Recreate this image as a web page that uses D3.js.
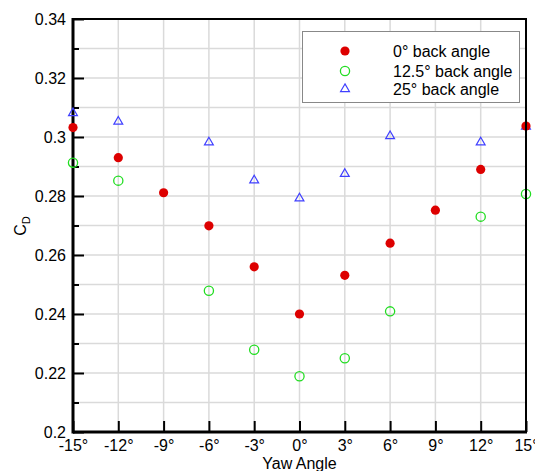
<!DOCTYPE html>
<html>
<head>
<meta charset="utf-8">
<script src="https://cdn.jsdelivr.net/npm/d3@7"></script>
<style>
  body { margin: 0; background: #fff; }
  svg { display: block; font-family: "Liberation Sans", Arial, sans-serif; }
</style>
</head>
<body>
<div id="chart"></div>
<script>
// yaw angles (deg) and drag coefficient per back angle
var yaw = [-15, -12, -9, -6, -3, 0, 3, 6, 9, 12, 15];
var cd0 = [0.3032, 0.293, 0.2811, 0.2699, 0.256, 0.240, 0.2531, 0.264, 0.2752, 0.289, 0.3037];
var yaw125 = [-15, -12, -6, -3, 0, 3, 6, 12, 15];
var cd125 = [0.2913, 0.2852, 0.2479, 0.2279, 0.2189, 0.225, 0.2409, 0.273, 0.2807];
var yaw25 = [-15, -12, -6, -3, 0, 3, 6, 12, 15];
var cd25 = [0.3081, 0.3052, 0.2982, 0.2853, 0.2792, 0.2875, 0.3003, 0.2982, 0.3035];
var xTicks = [-15, -12, -9, -6, -3, 0, 3, 6, 9, 12, 15];
var yTicks = [0.2, 0.22, 0.24, 0.26, 0.28, 0.3, 0.32, 0.34];
var legendLabels = ["0° back angle", "12.5° back angle", "25° back angle"];

var W = 535, H = 471;
var margin = {top: 19, right: 9, bottom: 39, left: 73},
    width = W - margin.left - margin.right,
    height = H - margin.top - margin.bottom;

var svg = d3.select("#chart").append("svg")
    .attr("width", W)
    .attr("height", H);

var g = svg.append("g")
    .attr("transform", "translate(" + margin.left + "," + margin.top + ")");

var x = d3.scaleLinear().domain([-15, 15]).range([0, width]);
var y = d3.scaleLinear().domain([0.2, 0.34]).range([height, 0]);

// grid
var yGrid = d3.range(21, 34).map(function (d) { return d / 100; });
g.append("g").selectAll("line")
    .data(yGrid)
    .enter().append("line")
    .attr("x1", 0).attr("x2", width)
    .attr("y1", function (d) { return y(d); })
    .attr("y2", function (d) { return y(d); })
    .attr("stroke", "#dadada").attr("stroke-width", 1.5);
g.append("g").selectAll("line")
    .data(xTicks.slice(1, -1))
    .enter().append("line")
    .attr("y1", 0).attr("y2", height)
    .attr("x1", function (d) { return x(d); })
    .attr("x2", function (d) { return x(d); })
    .attr("stroke", "#dadada").attr("stroke-width", 1.5);

// axes
var yAxis = g.append("g")
    .call(d3.axisLeft(y).tickValues(yTicks).tickSize(-11).tickPadding(7)
        .tickFormat(d3.format("~g")));
var yMinor = g.append("g")
    .call(d3.axisLeft(y).tickValues(d3.range(21, 34, 2).map(function (d) { return d / 100; }))
        .tickSize(-6).tickFormat(""));
var xAxis = g.append("g")
    .attr("transform", "translate(0," + height + ")")
    .call(d3.axisBottom(x).tickValues(xTicks).tickSize(-11).tickPadding(8)
        .tickFormat(function (d) { return d + "°"; }));

[yAxis, yMinor, xAxis].forEach(function (a) {
    a.select(".domain").remove();
    a.selectAll(".tick line").attr("stroke", "#000").attr("stroke-width", 2);
    a.selectAll("text").attr("font-size", 16).attr("fill", "#000")
        .attr("font-family", "'Liberation Sans', Arial, sans-serif");
});

// frame
g.append("line").attr("x1", 0).attr("x2", width).attr("y1", 0).attr("y2", 0)
    .attr("stroke", "#000").attr("stroke-width", 2);
g.append("line").attr("x1", 0).attr("x2", 0).attr("y1", -1).attr("y2", height + 1.5)
    .attr("stroke", "#000").attr("stroke-width", 3);
g.append("line").attr("x1", 0).attr("x2", width + 1).attr("y1", height).attr("y2", height)
    .attr("stroke", "#000").attr("stroke-width", 3);

// points
var red = "#dd0000", green = "#22dd22", blue = "#4040ff";
var tri = d3.symbol().type(d3.symbolTriangle).size(34);

g.append("g").selectAll("circle")
    .data(yaw125.map(function (a, i) { return [a, cd125[i]]; }))
    .enter().append("circle")
    .attr("cx", function (d) { return x(d[0]); })
    .attr("cy", function (d) { return y(d[1]); })
    .attr("r", 4.6)
    .attr("fill", "none").attr("stroke", green).attr("stroke-width", 1.3);

g.append("g").selectAll("path")
    .data(yaw25.map(function (a, i) { return [a, cd25[i]]; }))
    .enter().append("path")
    .attr("d", tri)
    .attr("transform", function (d) { return "translate(" + x(d[0]) + "," + y(d[1]) + ")"; })
    .attr("fill", "none").attr("stroke", blue).attr("stroke-width", 1.2);

g.append("g").selectAll("circle")
    .data(yaw.map(function (a, i) { return [a, cd0[i]]; }))
    .enter().append("circle")
    .attr("cx", function (d) { return x(d[0]); })
    .attr("cy", function (d) { return y(d[1]); })
    .attr("r", 4.6)
    .attr("fill", red);

// right border drawn over the points
g.append("line").attr("x1", width).attr("x2", width).attr("y1", -1).attr("y2", height)
    .attr("stroke", "#000").attr("stroke-width", 2);

// axis titles
svg.append("text")
    .attr("x", margin.left + x(0))
    .attr("y", 469)
    .attr("text-anchor", "middle")
    .attr("font-size", 16)
    .text("Yaw Angle");

var cl = svg.append("text")
    .attr("transform", "translate(26,226) rotate(-90)")
    .attr("text-anchor", "middle")
    .attr("font-size", 16);
cl.append("tspan").text("C");
cl.append("tspan").attr("font-size", 11).attr("dy", 4).text("D");

// legend
var lg = svg.append("g").attr("transform", "translate(302,31)");
lg.append("rect")
    .attr("x", 0.5).attr("y", 0.5).attr("width", 217).attr("height", 71)
    .attr("fill", "#fff").attr("stroke", "#888").attr("stroke-width", 1);
var rowsY = [20, 40, 58];
lg.append("circle").attr("cx", 43).attr("cy", rowsY[0]).attr("r", 4.6).attr("fill", red);
lg.append("circle").attr("cx", 43).attr("cy", rowsY[1]).attr("r", 4.6)
    .attr("fill", "none").attr("stroke", green).attr("stroke-width", 1.3);
lg.append("path").attr("d", tri).attr("transform", "translate(43," + rowsY[2] + ")")
    .attr("fill", "none").attr("stroke", blue).attr("stroke-width", 1.2);
lg.selectAll("text.lab")
    .data(legendLabels)
    .enter().append("text")
    .attr("class", "lab")
    .attr("x", 91)
    .attr("y", function (d, i) { return rowsY[i] + 6; })
    .attr("font-size", 16)
    .text(function (d) { return d; });
</script>
</body>
</html>
